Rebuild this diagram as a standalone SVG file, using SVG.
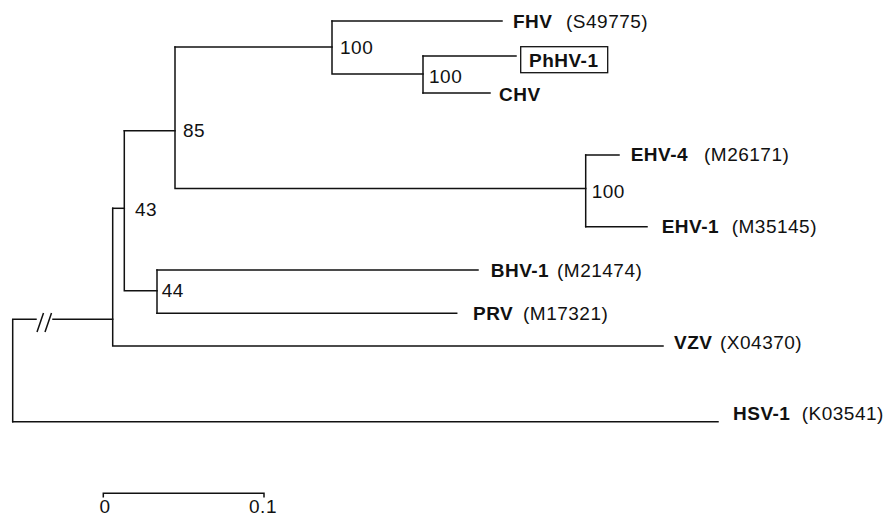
<svg xmlns="http://www.w3.org/2000/svg" width="885" height="517" viewBox="0 0 885 517">
<style>
.b{fill:none;stroke:#111;stroke-width:1.5;stroke-linecap:square}
text{font-family:"Liberation Sans",Arial,sans-serif;font-size:19px;letter-spacing:0.5px;fill:#111}
.n{font-weight:bold}
</style>
<rect width="885" height="517" fill="#fff"/>
<g id="connectors" class="b">
<path d="M12.7,421.7V319.3H36M53,319.3H112.7"/>
<path d="M37,332L43.5,313M45,332L51.5,313" stroke-linecap="butt"/>
<path d="M12.7,421.7H718"/>
<path d="M112.7,208.3V346H663"/>
<path d="M112.7,208.3H124.3"/>
<path d="M124.3,130.7V290.7H157"/>
<path d="M157,270V313.3"/>
<path d="M157,270H478M157,313.3H456.7"/>
<path d="M124.3,130.7H175"/>
<path d="M175,47V188.6H585.7"/>
<path d="M175,47H332"/>
<path d="M332,21V74H423"/>
<path d="M332,21H502"/>
<path d="M423,56V93"/>
<path d="M423,56H516M423,93H490"/>
<path d="M585.7,155V226.7"/>
<path d="M585.7,155H619M585.7,226.7H647"/>
</g>
<g id="node-85"><text x="183" y="136.6">85</text></g>
<g id="node-100a"><text x="340" y="53.6">100</text></g>
<g id="node-100b"><text x="429" y="82.6">100</text></g>
<g id="node-100c"><text x="591.7" y="197.6">100</text></g>
<g id="node-43"><text x="135" y="215.6">43</text></g>
<g id="node-44"><text x="161.7" y="296.6">44</text></g>
<g id="leaf-FHV"><text x="513" y="27.5" class="n">FHV</text><text x="566" y="27.5">(S49775)</text></g>
<g id="leaf-PhHV-1"><rect x="520.7" y="46.7" width="87" height="26" fill="none" stroke="#111" stroke-width="1.3"/><text x="529" y="66.7" class="n">PhHV-1</text></g>
<g id="leaf-CHV"><text x="499" y="101" class="n">CHV</text></g>
<g id="leaf-EHV-4"><text x="630.7" y="160.7" class="n">EHV-4</text><text x="704" y="160.7">(M26171)</text></g>
<g id="leaf-EHV-1"><text x="661.7" y="233.3" class="n">EHV-1</text><text x="731.7" y="233.3">(M35145)</text></g>
<g id="leaf-BHV-1"><text x="490.7" y="277" class="n">BHV-1</text><text x="557" y="277">(M21474)</text></g>
<g id="leaf-PRV"><text x="473" y="320" class="n">PRV</text><text x="523" y="320">(M17321)</text></g>
<g id="leaf-VZV"><text x="674" y="349" class="n">VZV</text><text x="720" y="349">(X04370)</text></g>
<g id="leaf-HSV-1"><text x="733" y="420" class="n">HSV-1</text><text x="801.7" y="420">(K03541)</text></g>
<g id="scale"><path class="b" d="M103.3,496.7V493.3H264V496.7"/><text x="105" y="513" text-anchor="middle">0</text><text x="263" y="513" text-anchor="middle">0.1</text></g>
</svg>
